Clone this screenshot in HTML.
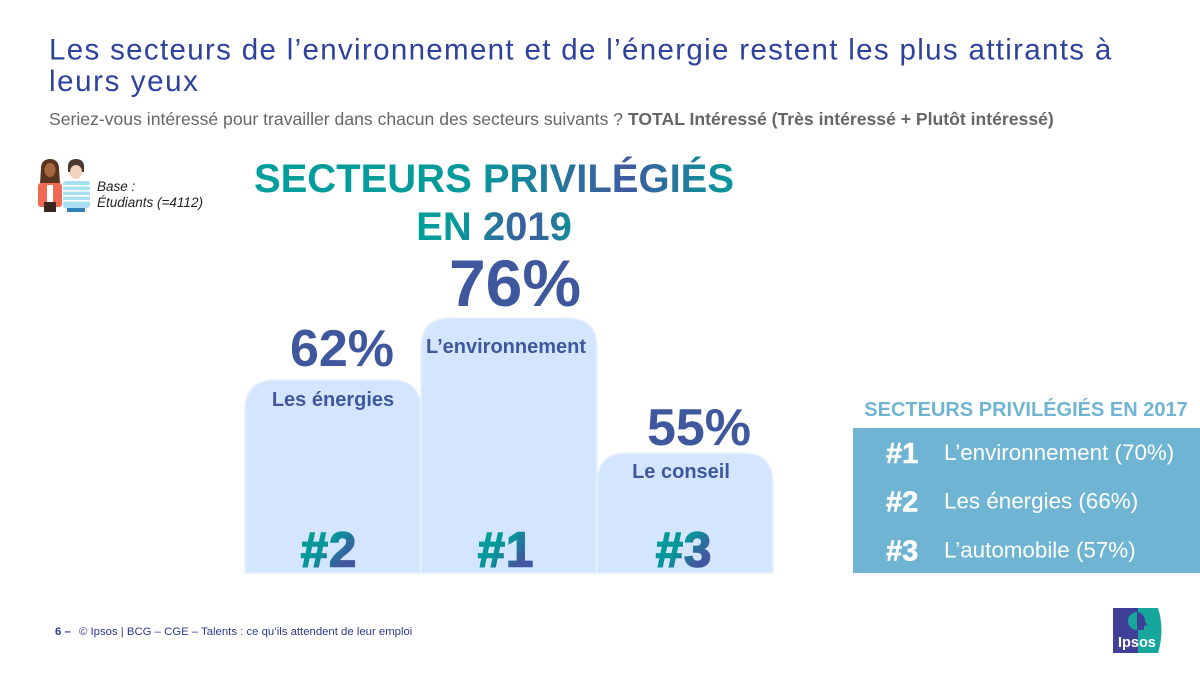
<!DOCTYPE html>
<html lang="fr">
<head>
<meta charset="utf-8">
<title>Secteurs privilégiés</title>
<style>
html,body{margin:0;padding:0;background:#fff;width:1200px;height:675px;overflow:hidden}
svg{display:block;font-family:"Liberation Sans",Arial,sans-serif}
</style>
</head>
<body>
<svg id="chart" width="1200" height="675" viewBox="0 0 1200 675" xmlns="http://www.w3.org/2000/svg">
<defs>
<linearGradient id="g-head" x1="0" y1="0" x2="1" y2="0">
<stop offset="0" stop-color="#009e9a"/><stop offset="0.45" stop-color="#059a9a"/><stop offset="0.78" stop-color="#3f5aa0"/><stop offset="1" stop-color="#069a9a"/>
</linearGradient>
<linearGradient id="g-head2" x1="0" y1="0" x2="1" y2="0">
<stop offset="0" stop-color="#009e9a"/><stop offset="0.25" stop-color="#059a9a"/><stop offset="0.72" stop-color="#3f5aa0"/><stop offset="1" stop-color="#109098"/>
</linearGradient>
<linearGradient id="g-rank" x1="0.1" y1="0.2" x2="0.9" y2="0.9">
<stop offset="0" stop-color="#009e9a"/><stop offset="0.38" stop-color="#089499"/><stop offset="0.78" stop-color="#40589f"/><stop offset="1" stop-color="#40589f"/>
</linearGradient>
</defs>

<text x="49" y="59.5" font-size="29.5" letter-spacing="1.33" fill="#2d429c">Les secteurs de l’environnement et de l’énergie restent les plus attirants à</text>
<text x="49" y="91" font-size="29.5" letter-spacing="1.6" fill="#2d429c">leurs yeux</text>
<text x="49" y="125" font-size="17.6" fill="#666666">Seriez-vous intéressé pour travailler dans chacun des secteurs suivants ? <tspan font-weight="bold">TOTAL Intéressé (Très intéressé + Plutôt intéressé)</tspan></text>

<g>
<path d="M41 168c0-6 4-9 9-9s9 3 9 9l1 16H40z" fill="#5a3420"/>
<ellipse cx="50" cy="170" rx="5.5" ry="7" fill="#a8683f"/>
<rect x="38" y="183" width="24" height="24" rx="3" fill="#ee6a50"/>
<rect x="47" y="185" width="6" height="17" fill="#ffffff"/>
<rect x="44" y="202" width="12" height="10" fill="#3a2620"/>
<path d="M68 166c0-5 4-7 8-7s8 2 8 7v6H68z" fill="#4a3a30"/>
<ellipse cx="76" cy="172" rx="6" ry="7" fill="#f3d2bd"/>
<rect x="63" y="181" width="27" height="27" rx="3" fill="#a8dff0"/>
<g fill="#ffffff">
<rect x="63" y="185" width="27" height="1.6"/><rect x="63" y="190" width="27" height="1.6"/><rect x="63" y="195" width="27" height="1.6"/><rect x="63" y="200" width="27" height="1.6"/>
</g>
<rect x="67" y="208" width="18" height="4" fill="#2f7fb5"/>
</g>
<text font-size="13.5" font-style="italic" fill="#222222"><tspan x="97" y="191">Base :</tspan><tspan x="97" y="207">Étudiants (=4112)</tspan></text>

<text x="494" y="192" text-anchor="middle" font-size="40" font-weight="bold" fill="url(#g-head)">SECTEURS PRIVILÉGIÉS</text>
<text x="494" y="240" text-anchor="middle" font-size="40" font-weight="bold" fill="url(#g-head2)">EN 2019</text>

<g id="podium"></g>

<g>
<text x="1026" y="416" text-anchor="middle" font-size="20" font-weight="bold" fill="#6fb5d3">SECTEURS PRIVILÉGIÉS EN 2017</text>
<rect x="853" y="428" width="347" height="145" fill="#6fb5d3"/>
<g id="ranking-rows"></g>
</g>

<text y="635" font-size="11.35" fill="#2d3a8c"><tspan x="55" font-weight="bold">6 –</tspan><tspan x="79">© Ipsos | BCG – CGE – Talents : ce qu’ils attendent de leur emploi</tspan></text>

<g>
<path d="M1138 608H1113V653H1138z" fill="#3f3f98"/>
<path d="M1138 608H1158Q1165 630 1158 653H1138z" fill="#16a69b"/>
<circle cx="1137" cy="621" r="9" fill="#16a69b"/>
<path d="M1137 612a9 9 0 0 1 8 9l2 4-3 1v4h-7z" fill="#3f3f98"/>
<text x="1118" y="647" font-size="14.5" font-weight="bold" fill="#ffffff">Ipsos</text>
</g>
</svg>

<script>
const categories = ["Les énergies", "L’environnement", "Le conseil"];
const values2019 = [62, 76, 55];
const ranks2019 = ["#2", "#1", "#3"];
const categories2017 = ["L’environnement", "Les énergies", "L’automobile"];
const values2017 = [70, 66, 57];
const ranks2017 = ["#1", "#2", "#3"];

const NS = "http://www.w3.org/2000/svg";
const BASELINE = 573;

function xScale(i) { return 245 + i * 176; }

// The podium is not drawn to a strict linear scale: piecewise height axis.
function heightScale(v) {
  const dom = [0, 55, 62, 76, 100];
  const ran = [0, 120, 193, 255, 360];
  for (let i = 1; i < dom.length; i++) {
    if (v <= dom[i]) {
      return ran[i - 1] + (v - dom[i - 1]) / (dom[i] - dom[i - 1]) * (ran[i] - ran[i - 1]);
    }
  }
  return ran[ran.length - 1];
}

function svgEl(tag, attrs, text) {
  const el = document.createElementNS(NS, tag);
  for (const k in attrs) el.setAttribute(k, attrs[k]);
  if (text !== undefined) el.textContent = text;
  return el;
}

const podium = document.getElementById("podium");
const pctX = [342, 515, 699];
const pctGap = [14, 12, 8];
const pctSize = [52, 66, 52];
const labelX = [333, 506, 681];
const labelGap = [26, 35, 25];
const rankX = [329, 506, 684];

categories.forEach(function (cat, i) {
  const x = xScale(i);
  const h = heightScale(values2019[i]);
  const top = BASELINE - h;
  const r = 30;
  const bar = svgEl("path", {
    d: "M" + x + " " + BASELINE + "V" + (top + r) + "Q" + x + " " + top + " " + (x + r) + " " + top +
       "H" + (x + 176 - r) + "Q" + (x + 176) + " " + top + " " + (x + 176) + " " + (top + r) + "V" + BASELINE + "Z",
    fill: "#d4e6ff", stroke: "#e8f0fc", "stroke-width": 1.6
  });
  
  
  podium.appendChild(bar);

  const pct = svgEl("text", {
    x: pctX[i], y: top - pctGap[i], "text-anchor": "middle",
    "font-size": pctSize[i], "font-weight": "bold", fill: "#3f589d"
  }, values2019[i] + "%");
  
  
  podium.appendChild(pct);

  const lab = svgEl("text", {
    x: labelX[i], y: top + labelGap[i], "text-anchor": "middle",
    "font-size": 20, "font-weight": "bold", fill: "#3f589d"
  }, cat);
  
  
  podium.appendChild(lab);

  const rank = svgEl("text", {
    x: rankX[i], y: 566.5, "text-anchor": "middle",
    "font-size": 49, "font-weight": "bold", fill: "url(#g-rank)",
    stroke: "url(#g-rank)", "stroke-width": 1.6, "letter-spacing": 1
  }, ranks2019[i]);
  
  
  podium.appendChild(rank);
});

const rows = document.getElementById("ranking-rows");
categories2017.forEach(function (cat, i) {
  const y = 463 + i * 48.7;
  const rk = svgEl("text", { x: 886, y: y, "font-size": 29, "font-weight": "bold", fill: "#ffffff", stroke: "#ffffff", "stroke-width": 0.5 }, ranks2017[i]);
  
  
  rows.appendChild(rk);
  const t = svgEl("text", { x: 944, y: y - 3, "font-size": 22.4, fill: "#ffffff" }, cat + " (" + values2017[i] + "%)");
  
  
  rows.appendChild(t);
});
</script>
</body>
</html>
